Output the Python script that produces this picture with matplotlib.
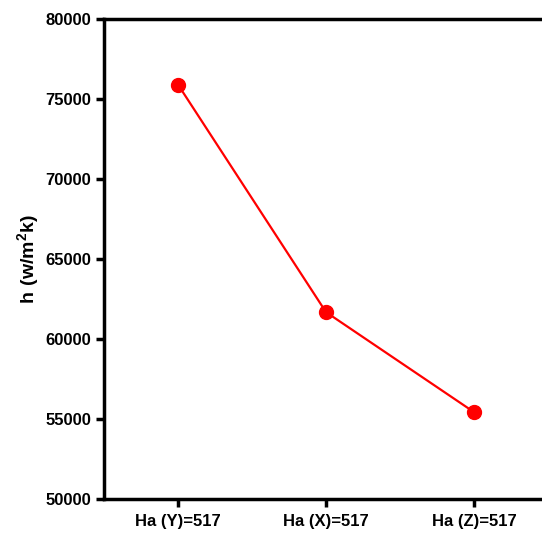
import matplotlib.pyplot as plt

labels = ["Ha (Y)=517", "Ha (X)=517", "Ha (Z)=517"]
h_values = [75900, 61680, 55430]

plt.rcParams['font.family'] = ['Liberation Sans', 'DejaVu Sans']
plt.rcParams['font.weight'] = 'bold'
plt.rcParams['mathtext.fontset'] = 'custom'
plt.rcParams['mathtext.rm'] = 'Liberation Sans:bold'
plt.rcParams['mathtext.bf'] = 'Liberation Sans:bold'
plt.rcParams['mathtext.default'] = 'bf'

fig = plt.figure(figsize=(5.42, 5.34), dpi=100)
ax = fig.add_axes([104 / 542, 35 / 534, 444 / 542, 480 / 534])

x = list(range(len(labels)))
ax.plot(x, h_values, color='#ff0000', linewidth=1.6, marker='o',
        markersize=10, clip_on=False, zorder=3)

ax.set_xlim(-0.5, 2.5)
ax.set_ylim(50000, 80000)
ax.set_xticks(x)
ax.set_xticklabels(labels, fontsize=12, fontweight='bold')
ax.set_yticks(range(50000, 80001, 5000))
ax.set_yticklabels([str(v) for v in range(50000, 80001, 5000)],
                   fontsize=12, fontweight='bold')
ax.set_ylabel(r"$\mathbf{h\ (w/m^2k)}$", fontsize=14, labelpad=3)

for side in ['left', 'bottom', 'top']:
    ax.spines[side].set_linewidth(2.5)
ax.spines['right'].set_visible(False)
ax.tick_params(axis='both', width=2.5, length=6, direction='out')
ax.tick_params(axis='x', pad=5)
ax.tick_params(axis='y', pad=3)

fig.savefig("out.png", dpi=100)
